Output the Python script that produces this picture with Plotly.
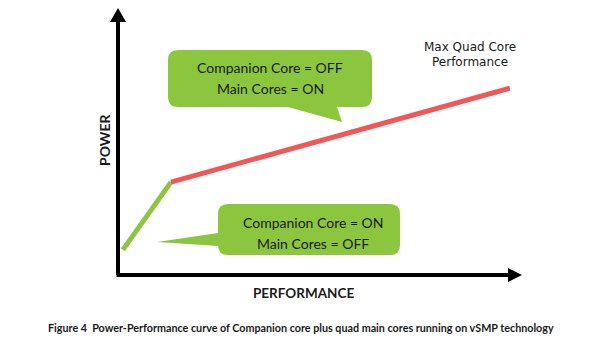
import plotly.graph_objects as go

# ---- data (conceptual power/performance curve) ----
companion_perf = [1.2, 13.1]
companion_power = [9.4, 34.8]
main_perf = [13.1, 97.0]
main_power = [34.8, 70.0]

callout_top = ["Companion Core = OFF", "Main Cores = ON"]
callout_bottom = ["Companion Core = ON", "Main Cores = OFF"]
max_label = ["Max Quad Core", "Performance"]
x_title = "PERFORMANCE"
y_title = "POWER"
caption = "Figure 4  Power-Performance curve of Companion core plus quad main cores running on vSMP technology"

W, H = 600, 342
ML, MR, MT, MB = 118, 78, 8, 67
PW = W - ML - MR
PH = H - MT - MB
OX, OY = ML, H - MB  # plot origin in page pixels


def px(x):
    return (x - OX) / PW


def py(y):
    return (OY - y) / PH


GREEN = "#8cc63f"
RED = "#f25757"
TXT = "#1a1a1a"

fig = go.Figure()
fig.add_trace(go.Scatter(x=companion_perf, y=companion_power, mode="lines",
                         line=dict(color=GREEN, width=5), hoverinfo="skip"))
fig.add_trace(go.Scatter(x=main_perf, y=main_power, mode="lines",
                         line=dict(color=RED, width=5), hoverinfo="skip"))


def rounded_callout(x0, y0, x1, y1, r, tail, side):
    def P(x, y):
        a, b = x - OX, OY - y
        return f"{a:.1f},{b:.1f}"
    d = f"M{P(x0 + r, y0)} L{P(x1 - r, y0)} Q{P(x1, y0)} {P(x1, y0 + r)} "
    d += f"L{P(x1, y1 - r)} Q{P(x1, y1)} {P(x1 - r, y1)} "
    if side == "bottom":
        (ax, ay), (tx, ty), (bx, by) = tail
        d += f"L{P(ax, ay)} L{P(tx, ty)} L{P(bx, by)} "
    d += f"L{P(x0 + r, y1)} Q{P(x0, y1)} {P(x0, y1 - r)} "
    if side == "left":
        (ax, ay), (tx, ty), (bx, by) = tail
        d += f"L{P(ax, ay)} L{P(tx, ty)} L{P(bx, by)} "
    d += f"L{P(x0, y0 + r)} Q{P(x0, y0)} {P(x0 + r, y0)} Z"
    return dict(type="path", path=d, xref="paper", yref="paper",
                xsizemode="pixel", ysizemode="pixel", xanchor=0, yanchor=0,
                fillcolor=GREEN, line=dict(width=0), layer="below")


shapes = []
# axes
shapes.append(dict(type="line", xref="paper", yref="paper", x0=0, y0=0, x1=0, y1=py(20),
                   line=dict(color="black", width=4)))
shapes.append(dict(type="line", xref="paper", yref="paper", x0=px(116.5), y0=0, x1=px(510), y1=0,
                   line=dict(color="black", width=4)))
shapes.append(dict(type="path", xref="paper", yref="paper", xsizemode="pixel", ysizemode="pixel",
                   xanchor=0, yanchor=0,
                   path=f"M{-8},{OY-22} L0,{OY-8} L8,{OY-22} Z",
                   fillcolor="black", line=dict(width=0)))
shapes.append(dict(type="path", xref="paper", yref="paper", xsizemode="pixel", ysizemode="pixel",
                   xanchor=0, yanchor=0,
                   path=f"M{508-OX},7 L{522-OX},0 L{508-OX},-7 Z",
                   fillcolor="black", line=dict(width=0)))
shapes.append(rounded_callout(168, 50, 372, 107, 10,
                              [(337, 107), (342, 122), (288, 107)], "bottom"))
shapes.append(rounded_callout(218, 204, 400, 255, 10,
                              [(218, 246), (157, 242), (218, 233)], "left"))

CFONT = dict(family="Lato, Open Sans, sans-serif", size=14, color=TXT)
ann = []
for i, t in enumerate(callout_top):
    ann.append(dict(text=t, x=px(270), y=py(67 + 22 * i), xref="paper", yref="paper",
                    showarrow=False, font=CFONT, xanchor="center", yanchor="middle"))
for i, t in enumerate(callout_bottom):
    ann.append(dict(text=t, x=px(313), y=py(222 + 21 * i), xref="paper", yref="paper",
                    showarrow=False, font=CFONT, xanchor="center", yanchor="middle"))
for i, t in enumerate(max_label):
    ann.append(dict(text=t, x=px(470), y=py(47 + 15 * i), xref="paper", yref="paper",
                    showarrow=False, xanchor="center", yanchor="middle",
                    font=dict(family="DejaVu Sans", size=12, color=TXT)))
ann.append(dict(text=f"<b>{x_title}</b>", x=px(303), y=py(293), xref="paper", yref="paper",
                showarrow=False, xanchor="center", yanchor="middle",
                font=dict(family="Lato, sans-serif", size=13.5, color=TXT)))
ann.append(dict(text=f"<b>{y_title}</b>", x=px(104), y=py(140), xref="paper", yref="paper",
                showarrow=False, xanchor="center", yanchor="middle", textangle=-90,
                font=dict(family="Lato, sans-serif", size=14, color=TXT)))
ann.append(dict(text=f"<b>{caption}</b>", x=px(301), y=py(327), xref="paper", yref="paper",
                showarrow=False, xanchor="center", yanchor="middle",
                font=dict(family="Lato, sans-serif", size=10.75, color=TXT)))

fig.update_layout(
    width=W, height=H,
    margin=dict(l=ML, r=MR, t=MT, b=MB),
    paper_bgcolor="white", plot_bgcolor="white",
    showlegend=False,
    xaxis=dict(range=[0, 100], visible=False, fixedrange=True),
    yaxis=dict(range=[0, 100], visible=False, fixedrange=True),
    shapes=shapes, annotations=ann,
)
fig.write_html("out.html", config=dict(displayModeBar=False))
